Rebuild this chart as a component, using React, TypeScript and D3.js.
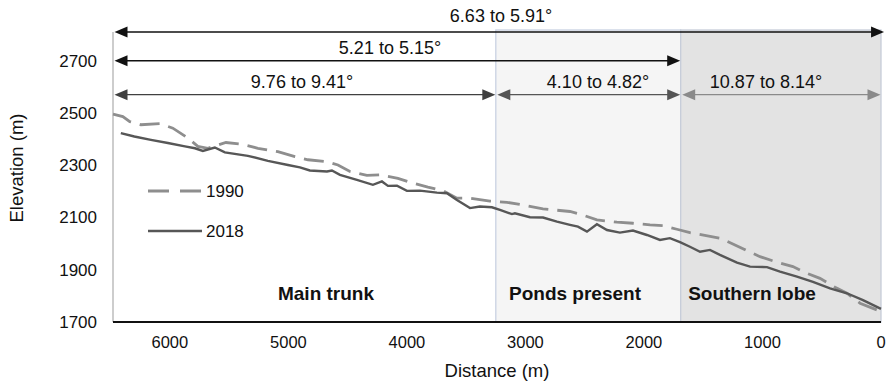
import React from "react";
import * as d3 from "d3";

// ---- Data ----
const dist1990 = [6480, 6397, 6338, 6245, 6084, 5975, 5848, 5764, 5679, 5527, 5401, 5257, 5089, 4945, 4835, 4675, 4582, 4481, 4338, 4228, 4076, 3975, 3823, 3696, 3578, 3468, 3300, 3156, 3021, 2852, 2624, 2540, 2397, 2228, 2093, 1949, 1840, 1722, 1612, 1553, 1359, 1232, 1131, 1021, 878, 743, 641, 515, 388, 287, 177, 68, 0];
const elev1990 = [2496, 2486, 2467, 2455, 2459, 2442, 2404, 2372, 2365, 2387, 2381, 2365, 2352, 2333, 2321, 2314, 2301, 2276, 2261, 2263, 2250, 2235, 2216, 2203, 2174, 2174, 2163, 2158, 2148, 2133, 2123, 2113, 2091, 2082, 2078, 2072, 2069, 2055, 2042, 2037, 2021, 1995, 1973, 1950, 1929, 1912, 1889, 1867, 1833, 1810, 1772, 1752, 1740];

const dist2018 = [6414, 6300, 6160, 6017, 5873, 5789, 5722, 5621, 5536, 5342, 5173, 5004, 4903, 4819, 4675, 4633, 4565, 4422, 4287, 4211, 4160, 4084, 4000, 3890, 3747, 3662, 3578, 3468, 3384, 3283, 3215, 3114, 3089, 2962, 2852, 2734, 2624, 2557, 2481, 2397, 2312, 2203, 2093, 1975, 1865, 1781, 1696, 1612, 1527, 1443, 1359, 1215, 1105, 962, 852, 709, 574, 430, 287, 152, 0];
const elev2018 = [2423, 2410, 2397, 2385, 2372, 2365, 2355, 2368, 2349, 2336, 2317, 2301, 2292, 2280, 2276, 2280, 2263, 2244, 2225, 2238, 2221, 2222, 2202, 2203, 2195, 2193, 2167, 2136, 2142, 2139, 2129, 2113, 2116, 2101, 2100, 2084, 2072, 2065, 2046, 2074, 2052, 2042, 2050, 2033, 2014, 2021, 2006, 1988, 1969, 1976, 1957, 1927, 1912, 1910, 1893, 1874, 1854, 1829, 1810, 1784, 1750];

const xTicks = [6000, 5000, 4000, 3000, 2000, 1000, 0];
const yTicks = [1700, 1900, 2100, 2300, 2500, 2700];

const seriesNames = ["1990", "2018"];

// region boundaries (distance, m)
const regionNames = ["Main trunk", "Ponds present", "Southern lobe"];
const regionStart = [6480, 3250, 1690];
const regionEnd = [3250, 1690, 0];

// slope annotations
const arrowLabels = ["6.63 to 5.91°", "5.21 to 5.15°", "9.76 to 9.41°", "4.10 to 4.82°", "10.87 to 8.14°"];
const arrowFrom = [6480, 6480, 6480, 3250, 1690];
const arrowTo = [-30, 1690, 3250, 1690, 0];
const arrowLevel = [2810, 2700, 2570, 2570, 2570];

export default function App() {
  const W = 888, H = 388;
  const x = d3.scaleLinear().domain([6480, 0]).range([113, 881]);
  const y = d3.scaleLinear().domain([1700, 2810]).range([322, 32]);
  const font = "'Liberation Sans', Arial, sans-serif";

  const line = d3.line<[number, number]>().x(d => x(d[0])).y(d => y(d[1]));
  const p1990 = line(dist1990.map((d, i) => [d, elev1990[i]]));
  const p2018 = line(dist2018.map((d, i) => [d, elev2018[i]]));

  const arrowColors = ["#111", "#111", "#404040", "#555", "#8a8a8a"];
  const labelColors = ["#111", "#111", "#111", "#111", "#111"];

  const head = (tipX: number, tipY: number, dir: number, color: string, key: string) => {
    const L = 13, hw = 5.5;
    const pts = `${tipX},${tipY} ${tipX - dir * L},${tipY - hw} ${tipX - dir * L},${tipY + hw}`;
    return <polygon key={key} points={pts} fill={color} />;
  };

  return (
    <svg width={W} height={H} style={{ position: "absolute", left: 0, top: 0, display: "block", background: "#fff" }} fontFamily={font}>
      {/* region shading */}
      <rect x={x(regionStart[1])} y={30} width={x(regionEnd[1]) - x(regionStart[1])} height={y(1700) - 30} fill="#f5f5f5" stroke="#c9d1e2" strokeWidth={1.3} />
      <rect x={x(regionStart[2])} y={30} width={x(regionEnd[2]) - x(regionStart[2])} height={y(1700) - 30} fill="#e3e3e3" stroke="#c7cdd9" strokeWidth={1.3} />

      {/* y axis line */}
      <line x1={x(6480)} x2={x(6480)} y1={y(2810)} y2={y(1700)} stroke="#bdbdbd" strokeWidth={1.5} />

      {/* lines */}
      <path d={p1990 || ""} fill="none" stroke="#8e8e8e" strokeWidth={2.8} strokeDasharray="20 9" />
      <path d={p2018 || ""} fill="none" stroke="#575757" strokeWidth={2.4} />

      {/* x axis */}
      <line x1={x(6480)} x2={x(0)} y1={y(1700)} y2={y(1700)} stroke="#111" strokeWidth={2.2} />

      {/* ticks */}
      {yTicks.map(t => (
        <text key={"y" + t} x={97} y={y(t)} dy="0.35em" textAnchor="end" fontSize={17} fill="#111">{t}</text>
      ))}
      {xTicks.map(t => (
        <text key={"x" + t} x={x(t)} y={348} textAnchor="middle" fontSize={16.5} fill="#111">{t}</text>
      ))}

      {/* axis titles */}
      <text x={497} y={377} textAnchor="middle" fontSize={18.5} fill="#111">Distance (m)</text>
      <text transform={`translate(23,168) rotate(-90)`} textAnchor="middle" fontSize={18.5} fill="#111">Elevation (m)</text>

      {/* region labels */}
      {regionNames.map((n, i) => {
        const cx = [326, 575, 752][i];
        return <text key={n} x={cx} y={300} textAnchor="middle" fontSize={19} fontWeight="bold" fill="#111">{n}</text>;
      })}

      {/* arrows */}
      {arrowLabels.map((lab, i) => {
        const x1 = x(arrowFrom[i]) + 1.5, x2 = x(arrowTo[i]) - 0.5;
        const yy = y(arrowLevel[i]);
        const c = arrowColors[i];
        return (
          <g key={lab}>
            <line x1={x1 + 8} x2={x2 - 8} y1={yy} y2={yy} stroke={c} strokeWidth={1.3} />
            {head(x1, yy, -1, c, "l")}
            {head(x2, yy, 1, c, "r")}
          </g>
        );
      })}
      {arrowLabels.map((lab, i) => {
        const cx = [501, 390, 302, 598, 766][i];
        const by = [22, 54, 88, 88, 88][i];
        return <text key={"t" + lab} x={cx} y={by} textAnchor="middle" fontSize={18} fill={labelColors[i]}>{lab}</text>;
      })}

      {/* legend */}
      <line x1={148} x2={202} y1={191} y2={191} stroke="#8e8e8e" strokeWidth={2.8} strokeDasharray="21 11" />
      <text x={206} y={191} dy="0.35em" fontSize={17} fill="#111">{seriesNames[0]}</text>
      <line x1={148} x2={202} y1={231} y2={231} stroke="#575757" strokeWidth={2.4} />
      <text x={206} y={231} dy="0.35em" fontSize={17} fill="#111">{seriesNames[1]}</text>
    </svg>
  );
}
